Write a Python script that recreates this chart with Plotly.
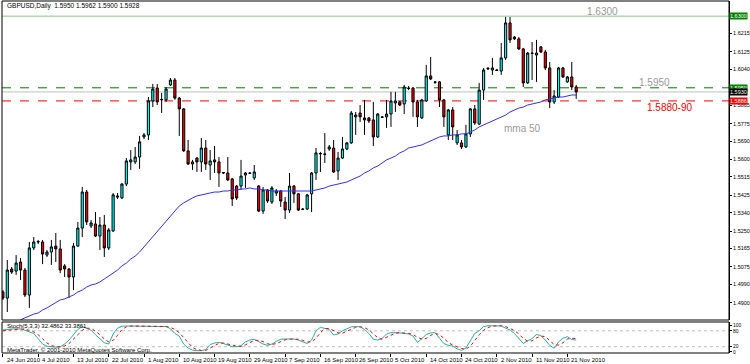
import plotly.graph_objects as go
import pandas as pd

# ---------------- data ----------------
dates = [d.strftime("%Y-%m-%d") for d in pd.bdate_range(
    "2010-06-24", "2010-11-23", freq="C", weekmask="Sun Mon Tue Wed Thu Fri")]

opens = [1.4953,1.4923,1.5065,1.5055,1.5099,1.5060,1.4938,1.5168,1.5197,1.5197,
 1.5133,1.5148,1.5177,1.5163,1.5080,1.5065,1.5026,1.5177,1.5265,1.5441,
 1.5275,1.5285,1.5226,1.5280,1.5168,1.5251,1.5422,1.5412,1.5480,1.5588,
 1.5588,1.5612,1.5710,1.5720,1.5886,1.5949,1.5891,1.5891,1.5964,1.5988,
 1.5900,1.5847,1.5642,1.5578,1.5607,1.5588,1.5656,1.5573,1.5598,1.5588,
 1.5534,1.5534,1.5505,1.5470,1.5470,1.5524,1.5534,1.5510,1.5470,1.5348,
 1.5451,1.5392,1.5436,1.5446,1.5392,1.5353,1.5470,1.5432,1.5358,1.5358,
 1.5432,1.5534,1.5627,1.5627,1.5651,1.5656,1.5544,1.5607,1.5651,1.5681,
 1.5808,1.5827,1.5803,1.5803,1.5793,1.5710,1.5808,1.5808,1.5822,1.5876,
 1.5881,1.5871,1.5949,1.5949,1.5881,1.5803,1.5886,1.6008,1.5979,1.5979,
 1.5891,1.5720,1.5842,1.5681,1.5681,1.5661,1.5725,1.5847,1.5773,1.5939,
 1.6042,1.6037,1.6037,1.6032,1.6096,1.6267,1.6198,1.6189,1.6140,1.5974,
 1.6120,1.6110,1.6150,1.6125,1.6047,1.5881,1.5905,1.6047,1.5979,1.6003,
 1.5954]
highs = [1.4962,1.5109,1.5075,1.5133,1.5119,1.5070,1.5197,1.5221,1.5207,1.5207,
 1.5158,1.5207,1.5241,1.5207,1.5089,1.5070,1.5192,1.5295,1.5466,1.5451,
 1.5304,1.5343,1.5319,1.5329,1.5265,1.5436,1.5436,1.5485,1.5607,1.5646,
 1.5661,1.5715,1.5729,1.5905,1.5969,1.5969,1.5925,1.5954,1.5998,1.5998,
 1.5905,1.5851,1.5695,1.5598,1.5612,1.5705,1.5695,1.5646,1.5666,1.5612,
 1.5539,1.5612,1.5510,1.5475,1.5598,1.5539,1.5539,1.5573,1.5475,1.5466,
 1.5456,1.5470,1.5456,1.5451,1.5417,1.5534,1.5475,1.5436,1.5363,1.5432,
 1.5539,1.5656,1.5637,1.5729,1.5671,1.5695,1.5637,1.5710,1.5686,1.5837,
 1.5832,1.5866,1.5891,1.5808,1.5881,1.5827,1.5812,1.5891,1.5930,1.5930,
 1.5886,1.5964,1.5959,1.5954,1.5891,1.5896,1.6062,1.6101,1.5983,1.5983,
 1.5896,1.5847,1.5856,1.5744,1.5695,1.5769,1.5851,1.5866,1.5974,1.6047,
 1.6052,1.6096,1.6042,1.6169,1.6296,1.6296,1.6203,1.6198,1.6145,1.6125,
 1.6174,1.6184,1.6154,1.6135,1.6076,1.5939,1.6052,1.6052,1.6008,1.6076,
 1.5964]
lows = [1.4914,1.4855,1.5041,1.5036,1.5011,1.4928,1.4875,1.5158,1.5187,1.5089,
 1.5124,1.5085,1.5099,1.5045,1.5026,1.4923,1.4962,1.5173,1.5221,1.5280,
 1.5265,1.5221,1.5158,1.5124,1.5158,1.5246,1.5407,1.5407,1.5470,1.5549,
 1.5578,1.5554,1.5700,1.5695,1.5856,1.5866,1.5827,1.5881,1.5959,1.5891,
 1.5715,1.5637,1.5573,1.5549,1.5539,1.5539,1.5549,1.5500,1.5534,1.5466,
 1.5529,1.5495,1.5373,1.5402,1.5451,1.5461,1.5529,1.5500,1.5343,1.5334,
 1.5388,1.5383,1.5422,1.5368,1.5309,1.5339,1.5388,1.5348,1.5353,1.5353,
 1.5343,1.5500,1.5539,1.5583,1.5642,1.5534,1.5500,1.5602,1.5646,1.5676,
 1.5720,1.5783,1.5720,1.5778,1.5666,1.5705,1.5803,1.5754,1.5759,1.5832,
 1.5861,1.5822,1.5939,1.5808,1.5759,1.5798,1.5881,1.5988,1.5969,1.5856,
 1.5759,1.5695,1.5695,1.5671,1.5651,1.5656,1.5710,1.5769,1.5769,1.5891,
 1.6037,1.6013,1.6032,1.6013,1.6086,1.6169,1.6184,1.6135,1.5954,1.5969,
 1.5988,1.5979,1.6120,1.6037,1.5851,1.5871,1.5900,1.5998,1.5974,1.5939,
 1.5896]
closes = [1.4923,1.5060,1.5050,1.5094,1.5060,1.4938,1.5168,1.5197,1.5199,1.5138,
 1.5148,1.5173,1.5163,1.5060,1.5065,1.5026,1.5177,1.5265,1.5441,1.5295,
 1.5290,1.5226,1.5280,1.5168,1.5256,1.5427,1.5417,1.5480,1.5593,1.5598,
 1.5612,1.5686,1.5720,1.5886,1.5944,1.5881,1.5893,1.5944,1.5988,1.5900,
 1.5847,1.5642,1.5578,1.5588,1.5588,1.5656,1.5578,1.5593,1.5588,1.5534,
 1.5536,1.5500,1.5407,1.5412,1.5519,1.5534,1.5532,1.5539,1.5348,1.5451,
 1.5397,1.5461,1.5446,1.5397,1.5353,1.5470,1.5432,1.5353,1.5356,1.5427,
 1.5534,1.5632,1.5629,1.5625,1.5661,1.5539,1.5607,1.5651,1.5681,1.5827,
 1.5817,1.5808,1.5793,1.5788,1.5710,1.5822,1.5806,1.5822,1.5886,1.5886,
 1.5866,1.5954,1.5947,1.5881,1.5808,1.5891,1.6008,1.5993,1.5977,1.5891,
 1.5808,1.5842,1.5759,1.5720,1.5661,1.5725,1.5847,1.5778,1.5939,1.6037,
 1.6045,1.6047,1.6035,1.6096,1.6267,1.6184,1.6189,1.6140,1.5974,1.6120,
 1.6118,1.6120,1.6125,1.6047,1.5881,1.5910,1.6047,1.6003,1.6003,1.5954,
 1.5930]

ma50 = [None,None,None,None,1.4817,1.4826,1.4835,1.4845,1.4850,1.4865,
 1.4875,1.4889,1.4904,1.4914,1.4919,1.4928,1.4938,1.4953,1.4962,1.4977,
 1.4987,1.4992,1.5002,1.5016,1.5031,1.5045,1.5060,1.5080,1.5094,1.5114,
 1.5128,1.5148,1.5173,1.5197,1.5221,1.5246,1.5275,1.5299,1.5324,1.5348,
 1.5373,1.5388,1.5402,1.5412,1.5422,1.5427,1.5432,1.5436,1.5441,1.5441,
 1.5446,1.5446,1.5451,1.5451,1.5456,1.5456,1.5461,1.5456,1.5456,1.5451,
 1.5451,1.5446,1.5446,1.5446,1.5446,1.5446,1.5446,1.5446,1.5446,1.5446,
 1.5446,1.5451,1.5456,1.5461,1.5470,1.5475,1.5480,1.5485,1.5490,1.5500,
 1.5510,1.5519,1.5534,1.5544,1.5559,1.5568,1.5583,1.5598,1.5607,1.5617,
 1.5632,1.5642,1.5656,1.5661,1.5666,1.5671,1.5681,1.5691,1.5700,1.5710,
 1.5715,1.5715,1.5720,1.5720,1.5725,1.5725,1.5734,1.5744,1.5759,1.5769,
 1.5778,1.5788,1.5798,1.5808,1.5817,1.5832,1.5842,1.5851,1.5856,1.5866,
 1.5871,1.5876,1.5881,1.5891,1.5896,1.5900,1.5905,1.5905,1.5910,1.5915,
 1.5915]

stoch_main = [83,86,87,87,87,82,76,70,50,30,
 22,19,18,20,30,45,65,85,96,90,
 82,65,48,35,30,68,90,97,98,98,
 98,97,97,97,98,97,96,96,88,70,
 60,30,15,7,5,5,9,28,34,36,
 32,26,20,20,24,38,45,48,38,30,
 25,30,40,48,49,49,49,45,38,32,
 45,80,93,90,85,64,68,80,88,95,
 96,95,85,70,48,45,51,68,73,73,
 72,70,68,60,36,50,66,72,73,52,
 32,25,22,12,6,15,45,70,80,96,
 99,99,99,98,90,83,70,50,32,42,
 51,66,62,45,25,14,38,52,58,47,
 45]
stoch_signal = [80,82,85,87,87,85,82,76,65,50,
 34,24,20,19,23,32,47,65,82,90,
 89,79,65,49,38,44,63,85,95,98,
 98,98,97,97,97,97,97,96,93,85,
 73,53,35,17,9,6,6,14,24,33,
 34,31,26,22,21,27,36,44,44,39,
 31,28,32,39,46,49,49,48,44,38,
 38,52,73,88,89,80,72,71,79,88,
 93,95,92,83,68,54,48,55,64,71,
 73,72,70,66,55,49,51,63,70,66,
 52,36,26,20,13,11,22,43,65,82,
 92,98,99,99,96,90,81,68,51,41,
 42,53,60,58,44,28,26,35,49,52,
 50]

tick_dates = ["2010-06-24","2010-07-04","2010-07-13","2010-07-22","2010-08-01",
 "2010-08-10","2010-08-19","2010-08-29","2010-09-07","2010-09-16","2010-09-26",
 "2010-10-05","2010-10-14","2010-10-24","2010-11-02","2010-11-11","2010-11-21"]
tick_labels = ["24 Jun 2010","4 Jul 2010","13 Jul 2010","22 Jul 2010","1 Aug 2010",
 "10 Aug 2010","19 Aug 2010","29 Aug 2010","7 Sep 2010","16 Sep 2010","26 Sep 2010",
 "5 Oct 2010","14 Oct 2010","24 Oct 2010","2 Nov 2010","11 Nov 2010","21 Nov 2010"]

price_ticks = [1.6215,1.6125,1.6040,1.5865,1.5775,1.5690,1.5600,1.5515,1.5425,
 1.5340,1.5250,1.5165,1.5075,1.4990,1.4900,1.4815]
stoch_ticks = [0, 20, 80, 100]

level_top = 1.6300
level_resist = 1.5950
level_bid = 1.5930
level_support = 1.5886

FONT = "Liberation Sans"

# ---------------- figure ----------------
fig = go.Figure()
fig.add_trace(go.Candlestick(
    x=dates, open=opens, high=highs, low=lows, close=closes,
    increasing=dict(fillcolor="#00FFFF", line=dict(color="#000000", width=1)),
    decreasing=dict(fillcolor="#FF0000", line=dict(color="#000000", width=1)),
    whiskerwidth=0, showlegend=False, hoverinfo="skip", xaxis="x", yaxis="y"))
fig.add_trace(go.Scatter(x=dates, y=ma50, mode="lines",
    line=dict(color="#2F2FFF", width=1), showlegend=False, hoverinfo="skip",
    xaxis="x", yaxis="y"))
fig.add_trace(go.Scatter(x=dates, y=stoch_main, mode="lines",
    line=dict(color="#20B2AA", width=1), showlegend=False, hoverinfo="skip",
    xaxis="x2", yaxis="y2"))
fig.add_trace(go.Scatter(x=dates, y=stoch_signal, mode="lines",
    line=dict(color="#FF0000", width=1, dash="dot"), showlegend=False,
    hoverinfo="skip", xaxis="x2", yaxis="y2"))

shapes = []
def hline(y, color, dash, yref="y", xref="x domain"):
    shapes.append(dict(type="line", xref=xref, yref=yref, x0=0, x1=1, y0=y, y1=y,
                       line=dict(color=color, width=1, dash=dash), layer="below"))
hline(level_top, "#86C886", "solid")
hline(level_resist, "#007A00", "dash")
hline(level_bid, "#C0C0C0", "solid")
hline(level_support, "#FF0000", "dash")
hline(80, "#C0C0C0", "dot", yref="y2", xref="x2 domain")
hline(20, "#C0C0C0", "dot", yref="y2", xref="x2 domain")
shapes.append(dict(type="rect", xref="x domain", yref="y domain", x0=0, x1=1, y0=0, y1=1,
                   line=dict(color="#000000", width=1)))
shapes.append(dict(type="rect", xref="x2 domain", yref="y2 domain", x0=0, x1=1, y0=0, y1=1,
                   line=dict(color="#000000", width=1)))

ann = []
def txt(x, y, s, color="#000000", size=7, xref="paper", yref="y", xanchor="left", **kw):
    ann.append(dict(x=x, y=y, xref=xref, yref=yref, text=s, showarrow=False,
                    xanchor=xanchor, yanchor="middle",
                    font=dict(family=FONT, size=size, color=color), **kw))
txt(0.004, 0.983, "GBPUSD,Daily  1.5950 1.5962 1.5900 1.5928", yref="y domain", size=6.5)
txt(0.802, 1.6325, "1.6300", color="#9A9A9A", size=10)
txt(0.8735, 1.5974, "1.5950", color="#9A9A9A", size=10)
txt(0.8845, 1.5856, "1.5880-90", color="#FF0000", size=10)
txt(0.6878, 1.5751, "mma 50", color="#9A9A9A", size=10)
txt(0.004, 0.86, "Stoch(5,3,3) 32.4862 33.3861", yref="y2 domain", size=6)
txt(0.004, 0.1, "MetaTrader, © 2001-2010 MetaQuotes Software Corp.", yref="y2 domain", size=6)
for val, bg in [(level_top, "#008000"), (level_resist, "#008000"),
                (level_support, "#FF0000"), (level_bid, "#000000")]:
    txt(1.0, val, f"{val:.4f}", color="#FFFFFF", size=5.5, bgcolor=bg, borderpad=0)
# date labels under the lower panel, to the right of each tick
for d, lab in zip(tick_dates, tick_labels):
    txt(dates.index(d) + 0.4, -0.0185, lab, xref="x2", yref="paper", size=6)

fig.update_layout(
    width=750, height=364,
    margin=dict(l=2, r=21, t=1, b=11),
    paper_bgcolor="#FFFFFF", plot_bgcolor="#FFFFFF",
    font=dict(family=FONT, size=6, color="#000000"),
    showlegend=False,
    xaxis=dict(type="category", domain=[0, 1], range=[-0.2, 164.65], anchor="y",
               showticklabels=False, showgrid=False, zeroline=False, ticks="",
               rangeslider=dict(visible=False), automargin=False),
    xaxis2=dict(type="category", domain=[0, 1], matches="x", anchor="y2",
                tickvals=tick_dates, showticklabels=False, ticks="outside", ticklen=3,
                tickcolor="#000000", showgrid=False, zeroline=False,
                automargin=False),
    yaxis=dict(domain=[0.09375, 1], range=[1.4816, 1.6374], side="right", anchor="x",
               tickvals=price_ticks, ticktext=[f"{v:.4f}" for v in price_ticks],
               ticks="outside", ticklen=2, tickcolor="#000000",
               showline=True, linecolor="#000000", showgrid=False, zeroline=False,
               tickfont=dict(size=5.5, family=FONT), automargin=False),
    yaxis2=dict(domain=[0, 0.0881], range=[-3.8, 113.2], side="right", anchor="x2",
                tickvals=stoch_ticks, ticks="outside", ticklen=2, tickcolor="#000000",
                showline=True, linecolor="#000000", showgrid=False, zeroline=False,
                tickfont=dict(size=5, family=FONT), automargin=False),
    shapes=shapes, annotations=ann,
)

fig.write_html("out.html", config={"displayModeBar": False}, post_script=(
    "document.body.style.margin='0px';document.body.style.padding='0px';"
    "document.body.style.overflow='hidden';"))
